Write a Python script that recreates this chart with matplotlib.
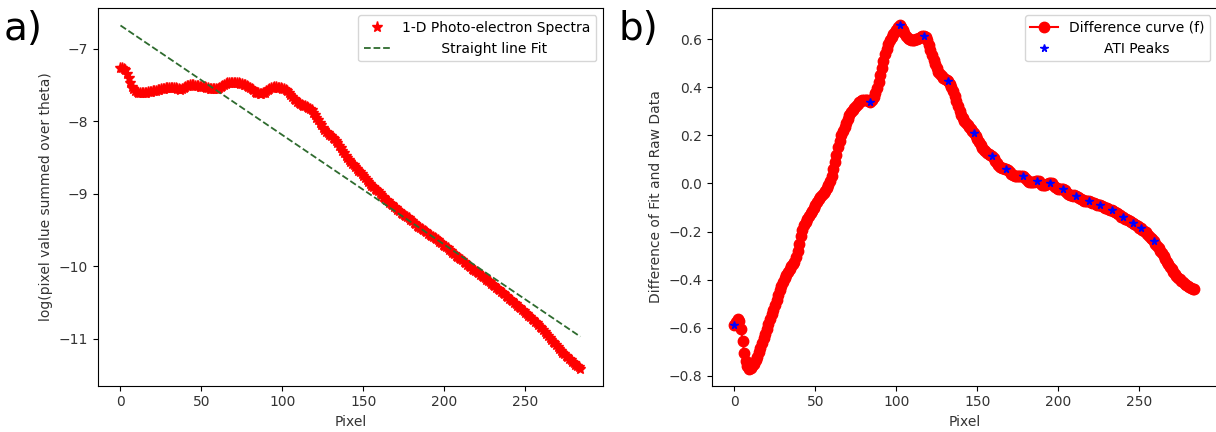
import matplotlib
matplotlib.use("Agg")
import matplotlib.pyplot as plt
import numpy as np

# Data --------------------------------------------------------------------------
# difference curve f = raw - fit, one value per pixel (0 .. 284)
diff = [
    -0.590, -0.575, -0.565, -0.572, -0.605, -0.655, -0.705, -0.740, -0.760, -0.770,
    -0.768, -0.760, -0.750, -0.736, -0.720, -0.703, -0.685, -0.665, -0.645, -0.625,
    -0.605, -0.585, -0.565, -0.545, -0.525, -0.505, -0.485, -0.465, -0.445, -0.427,
    -0.410, -0.395, -0.380, -0.367, -0.355, -0.345, -0.335, -0.325, -0.305, -0.280,
    -0.250, -0.220, -0.195, -0.175, -0.160, -0.147, -0.135, -0.125, -0.115, -0.102,
    -0.090, -0.077, -0.065, -0.057, -0.050, -0.040, -0.030, -0.018, -0.005, 0.010,
    0.030, 0.058, 0.090, 0.120, 0.150, 0.177, 0.200, 0.218, 0.235, 0.253,
    0.270, 0.283, 0.295, 0.305, 0.315, 0.323, 0.330, 0.337, 0.343, 0.346,
    0.347, 0.346, 0.345, 0.342, 0.340, 0.348, 0.360, 0.375, 0.395, 0.420,
    0.450, 0.480, 0.510, 0.537, 0.560, 0.580, 0.595, 0.608, 0.620, 0.630,
    0.640, 0.650, 0.657, 0.650, 0.640, 0.627, 0.615, 0.606, 0.600, 0.597,
    0.597, 0.598, 0.600, 0.602, 0.605, 0.609, 0.613, 0.615, 0.610, 0.595,
    0.575, 0.555, 0.535, 0.515, 0.495, 0.478, 0.465, 0.454, 0.445, 0.440,
    0.435, 0.430, 0.425, 0.414, 0.400, 0.384, 0.365, 0.343, 0.320, 0.300,
    0.285, 0.271, 0.260, 0.252, 0.245, 0.235, 0.225, 0.218, 0.211, 0.198,
    0.185, 0.172, 0.160, 0.149, 0.140, 0.133, 0.128, 0.122, 0.117, 0.114,
    0.105, 0.095, 0.085, 0.077, 0.070, 0.066, 0.063, 0.061, 0.060, 0.055,
    0.048, 0.041, 0.035, 0.031, 0.030, 0.031, 0.032, 0.032, 0.031, 0.025,
    0.018, 0.011, 0.006, 0.004, 0.004, 0.006, 0.009, 0.010, 0.008, 0.001,
    -0.006, -0.007, -0.005, -0.001, 0.002, 0.003, 0.001, -0.007, -0.015, -0.020,
    -0.022, -0.023, -0.022, -0.023, -0.028, -0.035, -0.042, -0.047, -0.050, -0.051,
    -0.050, -0.051, -0.055, -0.061, -0.066, -0.070, -0.072, -0.073, -0.072, -0.073,
    -0.076, -0.080, -0.083, -0.086, -0.088, -0.089, -0.090, -0.093, -0.097, -0.101,
    -0.104, -0.107, -0.109, -0.110, -0.114, -0.118, -0.123, -0.128, -0.133, -0.138,
    -0.141, -0.146, -0.150, -0.154, -0.158, -0.161, -0.163, -0.168, -0.173, -0.179,
    -0.185, -0.187, -0.193, -0.198, -0.204, -0.211, -0.218, -0.226, -0.233, -0.238,
    -0.250, -0.260, -0.270, -0.280, -0.290, -0.301, -0.313, -0.325, -0.336, -0.347,
    -0.357, -0.367, -0.376, -0.385, -0.393, -0.399, -0.405, -0.411, -0.417, -0.423,
    -0.428, -0.432, -0.435, -0.438, -0.440,
]
pixel = np.arange(len(diff))

# straight line fit of the log spectrum (end points)
fit_x = [0, 284]
fit_y = [-6.68, -10.97]

# ATI peak positions (pixels) on the difference curve
peak_x = [0, 84, 102, 117, 132, 148, 159, 168, 178, 187, 195, 203, 211, 219,
          226, 233, 240, 246, 251, 259]

# raw log spectrum = fit + difference
diff = np.array(diff)
slope = (fit_y[1] - fit_y[0]) / (fit_x[1] - fit_x[0])
raw = fit_y[0] + slope * pixel + diff
peak_y = diff[peak_x]

# Plot -------------------------------------------------------------------------
plt.rcParams["font.family"] = "DejaVu Sans"
plt.rcParams["font.size"] = 10
txt = "#333333"

fig = plt.figure(figsize=(12.16, 4.32), dpi=100)
ax1 = fig.add_axes([97.5 / 1216, 46.3 / 432, 505.8 / 1216, 377.4 / 432])
ax2 = fig.add_axes([711.5 / 1216, 46.3 / 432, 505.8 / 1216, 377.4 / 432])

ax1.plot(pixel, raw, "r*", markersize=8, label="1-D Photo-electron Spectra")
ax1.plot(fit_x, fit_y, "--", color="#2e6b2e", linewidth=1.3,
         label="         Straight line Fit")
ax1.set_xlabel("Pixel", color=txt)
ax1.set_ylabel("log(pixel value summed over theta)", color=txt)
ax1.set_yticks([-7, -8, -9, -10, -11])
ax1.legend(loc="upper right")

ax2.plot(pixel, diff, "ro-", markersize=7.5, label="Difference curve (f)")
ax2.plot(peak_x, peak_y, "b*", markersize=5.5, label="        ATI Peaks")
ax2.set_xlabel("Pixel", color=txt)
ax2.set_ylabel("Difference of Fit and Raw Data", color=txt)
ax2.legend(loc="upper right")

for ax in (ax1, ax2):
    ax.tick_params(labelcolor=txt)
    ax.set_xticks([0, 50, 100, 150, 200, 250])

fig.text(4 / 1216, 1 - 40 / 432, "a)", fontsize=28, va="baseline")
fig.text(618 / 1216, 1 - 40 / 432, "b)", fontsize=28, va="baseline")

fig.savefig("out.png", dpi=100)
